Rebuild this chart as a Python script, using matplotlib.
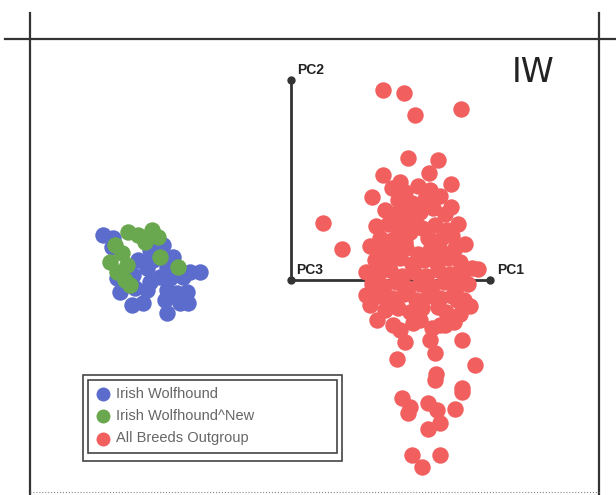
import matplotlib.pyplot as plt
from matplotlib.patches import Rectangle

# PCA scores (in picture units: x to the right, y downwards)
iw_x = [103, 113, 163, 150, 138, 147, 167, 190, 200, 117, 133, 150, 160, 170, 183,
        120, 135, 147, 167, 177, 187, 132, 143, 165, 180, 188, 167, 112, 173, 153]
iw_y = [235, 238, 245, 250, 260, 268, 267, 272, 272, 278, 275, 282, 277, 278, 277,
        292, 288, 290, 290, 293, 292, 305, 303, 300, 303, 303, 313, 247, 257, 260]

new_x = [128, 138, 152, 115, 122, 110, 127, 145, 158, 160, 178, 125, 130, 117]
new_y = [232, 235, 230, 245, 253, 262, 265, 242, 237, 257, 267, 280, 285, 272]

out_x = [383, 404, 415, 461, 408, 438, 383, 429, 451, 372, 451, 323, 342, 478, 366, 400,
         # main body
         392, 405, 418, 430, 440, 398, 412, 425,
         385, 395, 408, 420, 433, 445, 402, 415,
         376, 388, 398, 410, 422, 435, 447, 458, 380, 392, 405, 428, 440, 452,
         370, 382, 394, 406, 418, 430, 442, 455, 465, 375, 387, 400, 412, 424, 436, 448, 460,
         366, 378, 390, 402, 414, 426, 438, 450, 462, 472, 372, 384, 396, 408, 420, 432, 444, 456, 468,
         380, 392, 404, 416, 428, 440, 452, 464, 374,
         385, 398, 410, 422, 446, 460, 470,
         420, 432, 454,
         # lower tail
         370, 377, 393, 400, 405, 413, 430, 435, 440, 445, 462, 397, 436, 475, 462, 457, 438,
         462, 402, 410, 408, 428, 437, 455, 440, 428, 412, 440, 422, 435]
out_y = [90, 93, 115, 109, 158, 160, 175, 173, 184, 197, 207, 223, 249, 269, 295, 182,
         188, 192, 186, 190, 196, 200, 203, 199,
         210, 214, 210, 212, 208, 214, 222, 220,
         226, 224, 230, 232, 228, 225, 230, 224, 238, 240, 242, 238, 240, 236,
         246, 250, 252, 248, 254, 250, 252, 248, 244, 260, 262, 258, 264, 260, 262, 258, 262,
         272, 274, 270, 276, 272, 276, 270, 274, 276, 268, 284, 286, 282, 288, 284, 286, 282, 288, 284,
         296, 298, 294, 300, 296, 298, 296, 300, 292,
         310, 308, 312, 308, 312, 314, 306,
         320, 328, 322,
         305, 320, 325, 330, 342, 323, 340, 353, 325, 325, 340, 359, 374, 365, 388, 300, 307,
         392, 398, 407, 413, 403, 410, 409, 423, 429, 455, 455, 467, 380]

labels = ['Irish Wolfhound', 'Irish Wolfhound^New', 'All Breeds Outgroup']
colors = ['#5b6ccc', '#6aa84f', '#f25f5f']

fig = plt.figure(figsize=(6.16, 4.95), dpi=100)
ax = fig.add_axes([0, 0, 1, 1])
ax.set_xlim(0, 616)
ax.set_ylim(495, 0)
ax.axis('off')

# outer frame of the scanned page
frame = '#333333'
ax.plot([5, 616], [39, 39], color=frame, lw=1.6)
ax.plot([30, 30], [13, 495], color=frame, lw=1.6)
ax.plot([599, 599], [13, 495], color=frame, lw=1.6)
ax.plot([30, 599], [492, 492], color='#888888', lw=0.8, ls=':')

# PC axes glyph
ax.plot([291, 291], [80, 280], color=frame, lw=2, zorder=1)
ax.plot([291, 490], [280, 280], color=frame, lw=2, zorder=1)
ax.plot([291, 291, 490], [80, 280, 280], 'o', color=frame, ms=5, zorder=4)
ax.text(297, 74, 'PC2', fontsize=10, fontweight='bold', color='#222222', family='Liberation Sans')
ax.text(296, 274, 'PC3', fontsize=10, fontweight='bold', color='#222222', family='Liberation Sans')
ax.text(497, 274, 'PC1', fontsize=10, fontweight='bold', color='#222222', family='Liberation Sans')
ax.text(512, 82, 'IW', fontsize=24, color='#222222', family='DejaVu Sans')

ax.scatter(iw_x, iw_y, s=140, color=colors[0], label=labels[0], zorder=2, linewidths=0)
ax.scatter(new_x, new_y, s=140, color=colors[1], label=labels[1], zorder=2, linewidths=0)
ax.scatter(out_x, out_y, s=140, color=colors[2], label=labels[2], zorder=3, linewidths=0)

leg = ax.legend(loc='upper left',
                bbox_to_anchor=(88 / 616, 1 - 455 / 495, 249 / 616, 75 / 495),
                mode='expand', frameon=True, fancybox=False, edgecolor='#444444',
                framealpha=1, prop={'family': 'Liberation Sans', 'size': 10.5},
                handletextpad=0.4, borderpad=0.5, labelspacing=0.55, borderaxespad=0,
                handlelength=1.0, markerscale=0.85)
leg.get_frame().set_linewidth(1.2)
for t in leg.get_texts():
    t.set_color('#666666')
ax.add_patch(Rectangle((83, 375), 259, 86, fill=False, edgecolor='#444444', lw=1.2))

fig.savefig('out.png', dpi=100)
